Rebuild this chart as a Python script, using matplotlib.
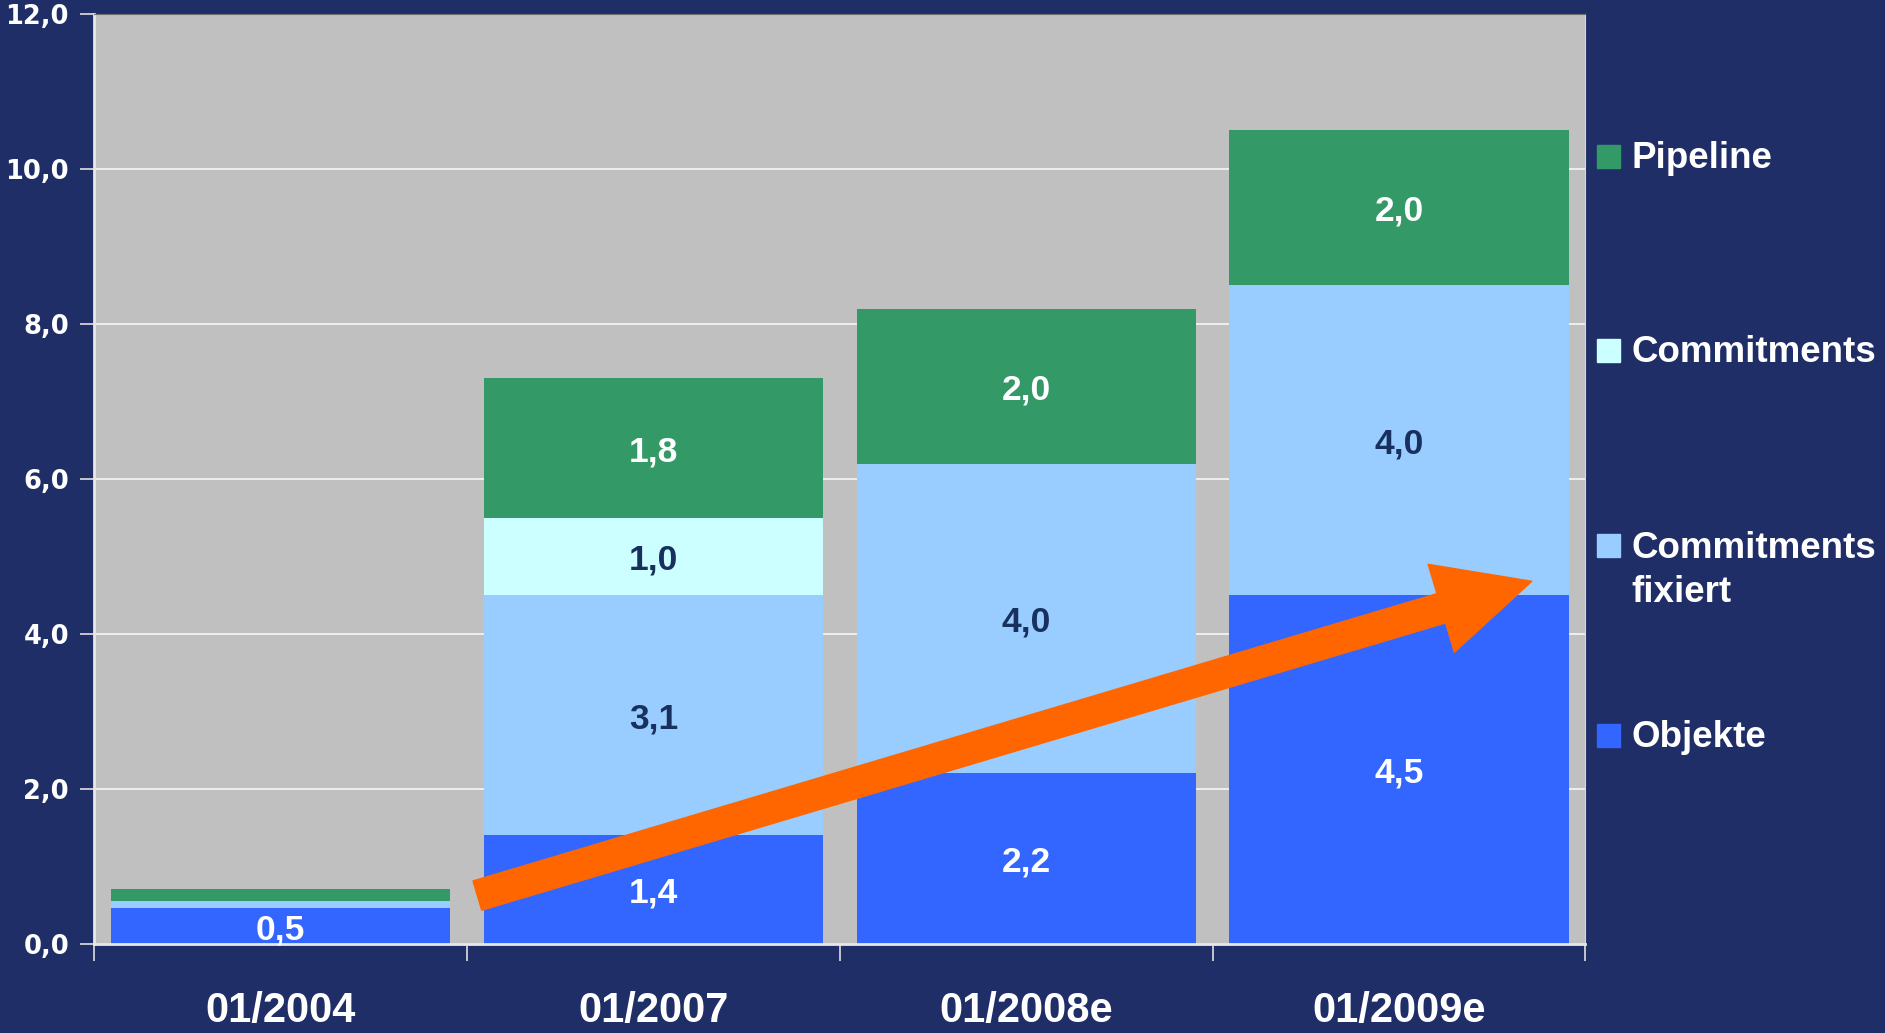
import matplotlib.pyplot as plt
from matplotlib.patches import Rectangle

# data (German decimal comma)
dates = ['01/2004', '01/2007', '01/2008e', '01/2009e']
objekte = [0.46, 1.4, 2.2, 4.5]
comm_fixiert = [0.1, 3.1, 4.0, 4.0]
commitments = [0.0, 1.0, 0.0, 0.0]
pipeline = [0.15, 1.8, 2.0, 2.0]

navy = '#1F2E66'
dark_txt = '#17305E'

series = [
    ('Objekte', objekte, '#3366FF', 'white'),
    ('Commitments\nfixiert', comm_fixiert, '#99CCFF', dark_txt),
    ('Commitments', commitments, '#CCFFFF', dark_txt),
    ('Pipeline', pipeline, '#339966', 'white'),
]

fig = plt.figure(figsize=(18.85, 10.33), dpi=100, facecolor=navy)
ax = fig.add_axes([0.0499, 0.0862, 0.7912, 0.9002])
ax.set_facecolor('#C0C0C0')

x = list(range(len(dates)))
bottom = [0.0] * len(dates)
for name, vals, col, tcol in series:
    ax.bar(x, vals, width=0.91, bottom=bottom, color=col, zorder=2)
    for i, v in enumerate(vals):
        if v >= 0.4:
            ax.text(i, bottom[i] + v / 2, f'{v:.1f}'.replace('.', ','),
                    ha='center', va='center_baseline', color=tcol, fontsize=25.5,
                    fontweight='bold', family='Liberation Sans', zorder=4)
    bottom = [b + v for b, v in zip(bottom, vals)]

ax.set_xlim(-0.5, 3.5)
ax.set_ylim(0, 12)
yt = [0, 2, 4, 6, 8, 10, 12]
ax.set_yticks(yt)
ax.set_yticklabels([f'{v:.1f}'.replace('.', ',') for v in yt],
                   fontsize=18.5, fontweight='bold', family='DejaVu Sans', color='white')
ax.tick_params(axis='y', length=10, width=1.2, color='#E0E0E0', pad=8)
ax.set_xticks(x)
ax.set_xticklabels(dates, fontsize=30, fontweight='bold', family='Liberation Sans', color='white')
ax.tick_params(axis='x', which='major', length=0, pad=34)
ax.set_xticks([i - 0.5 for i in range(len(dates) + 1)], minor=True)
ax.tick_params(axis='x', which='minor', length=12, width=1.2, color='#E0E0E0')

for v in yt[1:-1]:
    ax.axhline(v, color='#F2F2F2', lw=1.3, zorder=1)

for s in ['left', 'bottom']:
    ax.spines[s].set_color('#E8E8E8')
    ax.spines[s].set_linewidth(2)
ax.spines['top'].set_color('#707070')
ax.spines['right'].set_color('#D8D8D8')

# orange trend arrow
ax.annotate('', xy=(0.964, 0.390), xytext=(0.257, 0.052),
            xycoords='axes fraction', textcoords='axes fraction',
            arrowprops=dict(arrowstyle='simple,head_length=68,head_width=66,tail_width=22',
                            mutation_scale=1, color='#FF6600', shrinkA=0, shrinkB=0),
            zorder=5)

# legend on the right, top to bottom; square sits on the first text line
W, H = 1885, 1033
leg_base = [168, 362, 557, 747]
line_h = 44.5
for (name, vals, col, tcol), yb in zip(series[::-1], leg_base):
    fig.patches.append(Rectangle((1597 / W, 1 - yb / H), 23 / W, 23 / H,
                                 transform=fig.transFigure, color=col))
    last = yb + line_h * name.count('\n')
    fig.text(1631 / W, 1 - last / H, name, ha='left', va='baseline', color='white',
             fontsize=26.5, fontweight='bold', family='Liberation Sans', linespacing=1.33)

fig.savefig('out.png', dpi=100, facecolor=navy)
